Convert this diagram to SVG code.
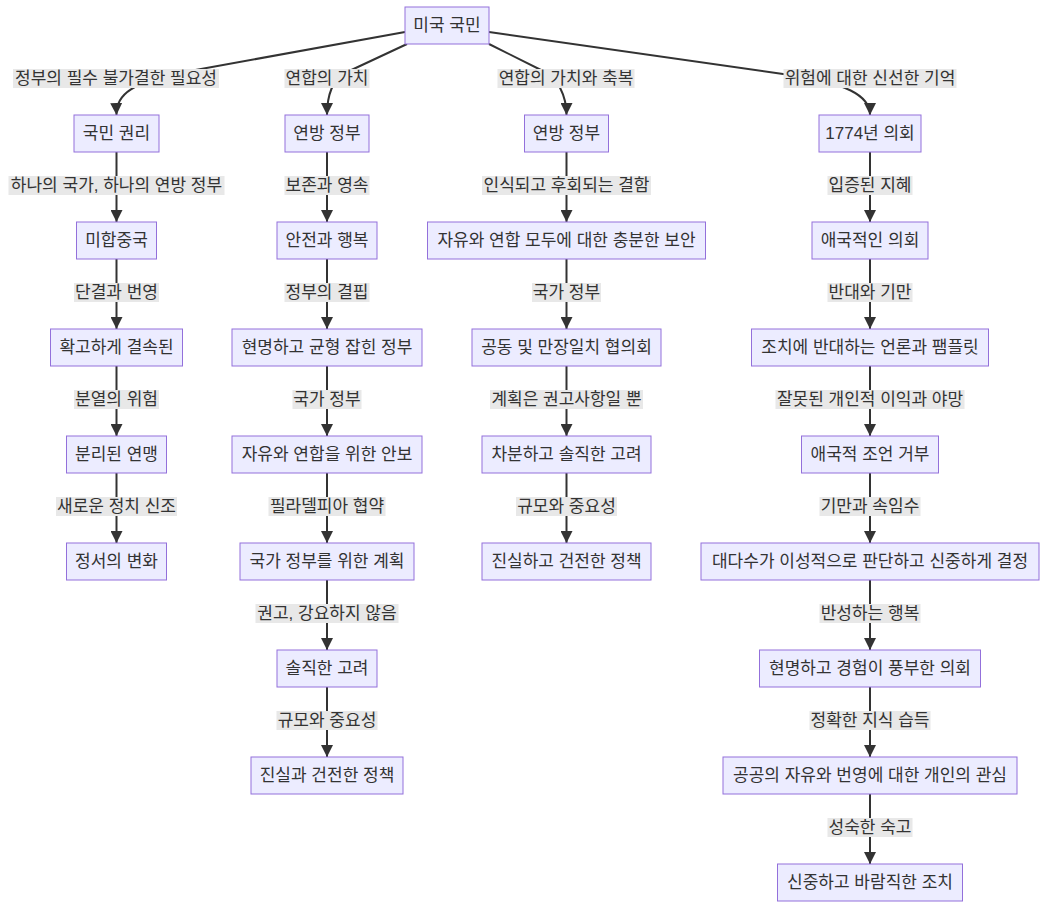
<svg xmlns="http://www.w3.org/2000/svg" width="1047" height="908" viewBox="0 0 1047 908">
<defs>
<marker id="arrow" viewBox="0 0 10 10" refX="10" refY="5" markerUnits="userSpaceOnUse" markerWidth="12" markerHeight="12" orient="auto">
<path d="M0,0 L10,5 L0,10 z" fill="#333"/>
</marker>
</defs>
<style>
.node rect{fill:#ECECFF;stroke:#9370DB;stroke-width:1}
text{font-family:"Liberation Sans","Noto Sans CJK KR",sans-serif;font-size:17px;fill:#333;text-anchor:middle;dominant-baseline:central}
.edge{stroke:#333;stroke-width:2;fill:none;marker-end:url(#arrow)}
.lbl rect{fill:#e8e8e8}
</style>
<rect width="1047" height="908" fill="#ffffff"/>
<g id="connectors">
<path class="edge" d="M405,32 L190,71 C130,82 116,95 116.5,115"/>
<path class="edge" d="M407,44 L345,73 C333,79 327,95 327,115"/>
<path class="edge" d="M489,44 L545,72 C557,78 566.5,95 566.5,115"/>
<path class="edge" d="M489,32 L790,75 C845,83 870,95 870,115"/>
<path class="edge" d="M116.5,152 V222"/>
<path class="edge" d="M116.5,259 V329"/>
<path class="edge" d="M116.5,366 V436"/>
<path class="edge" d="M116.5,473 V543"/>
<path class="edge" d="M327,152 V222"/>
<path class="edge" d="M327,259 V329"/>
<path class="edge" d="M327,366 V436"/>
<path class="edge" d="M327,473 V543"/>
<path class="edge" d="M327,580 V650"/>
<path class="edge" d="M327,687 V757"/>
<path class="edge" d="M566.5,152 V222"/>
<path class="edge" d="M566.5,259 V329"/>
<path class="edge" d="M566.5,366 V436"/>
<path class="edge" d="M566.5,473 V543"/>
<path class="edge" d="M870,152 V222"/>
<path class="edge" d="M870,259 V329"/>
<path class="edge" d="M870,366 V436"/>
<path class="edge" d="M870,473 V543"/>
<path class="edge" d="M870,580 V650"/>
<path class="edge" d="M870,687 V757"/>
<path class="edge" d="M870,794 V864"/>
</g>
<g id="edge-labels">
<g class="lbl"><rect x="13" y="69" width="206" height="19"/><text x="116" y="78.5">정부의 필수 불가결한 필요성</text></g>
<g class="lbl"><rect x="284.5" y="69" width="85" height="19"/><text x="327" y="78.5">연합의 가치</text></g>
<g class="lbl"><rect x="497.5" y="69" width="137" height="19"/><text x="566" y="78.5">연합의 가치와 축복</text></g>
<g class="lbl"><rect x="783.5" y="69" width="173" height="19"/><text x="870" y="78.5">위험에 대한 신선한 기억</text></g>

<g class="lbl"><rect x="8.5" y="176" width="216" height="19"/><text x="116.5" y="185.5">하나의 국가, 하나의 연방 정부</text></g>
<g class="lbl"><rect x="74" y="283" width="85" height="19"/><text x="116.5" y="292.5">단결과 번영</text></g>
<g class="lbl"><rect x="74" y="390" width="85" height="19"/><text x="116.5" y="399.5">분열의 위험</text></g>
<g class="lbl"><rect x="56" y="497" width="121" height="19"/><text x="116.5" y="506.5">새로운 정치 신조</text></g>

<g class="lbl"><rect x="284.5" y="176" width="85" height="19"/><text x="327" y="185.5">보존과 영속</text></g>
<g class="lbl"><rect x="284.5" y="283" width="85" height="19"/><text x="327" y="292.5">정부의 결핍</text></g>
<g class="lbl"><rect x="292.5" y="390" width="69" height="19"/><text x="327" y="399.5">국가 정부</text></g>
<g class="lbl"><rect x="268.5" y="497" width="117" height="19"/><text x="327" y="506.5">필라델피아 협약</text></g>
<g class="lbl"><rect x="255.5" y="604" width="143" height="19"/><text x="327" y="613.5">권고, 강요하지 않음</text></g>
<g class="lbl"><rect x="276.5" y="711" width="101" height="19"/><text x="327" y="720.5">규모와 중요성</text></g>

<g class="lbl"><rect x="482" y="176" width="169" height="19"/><text x="566.5" y="185.5">인식되고 후회되는 결함</text></g>
<g class="lbl"><rect x="532" y="283" width="69" height="19"/><text x="566.5" y="292.5">국가 정부</text></g>
<g class="lbl"><rect x="490" y="390" width="153" height="19"/><text x="566.5" y="399.5">계획은 권고사항일 뿐</text></g>
<g class="lbl"><rect x="516" y="497" width="101" height="19"/><text x="566.5" y="506.5">규모와 중요성</text></g>

<g class="lbl"><rect x="827.5" y="176" width="85" height="19"/><text x="870" y="185.5">입증된 지혜</text></g>
<g class="lbl"><rect x="827.5" y="283" width="85" height="19"/><text x="870" y="292.5">반대와 기만</text></g>
<g class="lbl"><rect x="775.5" y="390" width="189" height="19"/><text x="870" y="399.5">잘못된 개인적 이익과 야망</text></g>
<g class="lbl"><rect x="819.5" y="497" width="101" height="19"/><text x="870" y="506.5">기만과 속임수</text></g>
<g class="lbl"><rect x="819.5" y="604" width="101" height="19"/><text x="870" y="613.5">반성하는 행복</text></g>
<g class="lbl"><rect x="809.5" y="711" width="121" height="19"/><text x="870" y="720.5">정확한 지식 습득</text></g>
<g class="lbl"><rect x="827.5" y="818" width="85" height="19"/><text x="870" y="827.5">성숙한 숙고</text></g>
</g>

<g id="root" class="node"><rect x="405" y="7" width="84" height="37"/><text x="447" y="25.5">미국 국민</text></g>

<g id="A1" class="node"><rect x="74" y="115" width="85" height="37"/><text x="116.5" y="133.5">국민 권리</text></g>
<g id="A2" class="node"><rect x="76.5" y="222" width="80" height="37"/><text x="116.5" y="240.5">미합중국</text></g>
<g id="A3" class="node"><rect x="50.5" y="329" width="132" height="37"/><text x="116.5" y="347.5">확고하게 결속된</text></g>
<g id="A4" class="node"><rect x="66.5" y="436" width="100" height="37"/><text x="116.5" y="454.5">분리된 연맹</text></g>
<g id="A5" class="node"><rect x="66.5" y="543" width="100" height="37"/><text x="116.5" y="561.5">정서의 변화</text></g>

<g id="B1" class="node"><rect x="285" y="115" width="84" height="37"/><text x="327" y="133.5">연방 정부</text></g>
<g id="B2" class="node"><rect x="277" y="222" width="100" height="37"/><text x="327" y="240.5">안전과 행복</text></g>
<g id="B3" class="node"><rect x="232" y="329" width="190" height="37"/><text x="327" y="347.5">현명하고 균형 잡힌 정부</text></g>
<g id="B4" class="node"><rect x="232" y="436" width="190" height="37"/><text x="327" y="454.5">자유와 연합을 위한 안보</text></g>
<g id="B5" class="node"><rect x="240" y="543" width="174" height="37"/><text x="327" y="561.5">국가 정부를 위한 계획</text></g>
<g id="B6" class="node"><rect x="277" y="650" width="100" height="37"/><text x="327" y="668.5">솔직한 고려</text></g>
<g id="B7" class="node"><rect x="251" y="757" width="152" height="37"/><text x="327" y="775.5">진실과 건전한 정책</text></g>

<g id="C1" class="node"><rect x="524.5" y="115" width="84" height="37"/><text x="566.5" y="133.5">연방 정부</text></g>
<g id="C2" class="node"><rect x="427.5" y="222" width="278" height="37"/><text x="566.5" y="240.5">자유와 연합 모두에 대한 충분한 보안</text></g>
<g id="C3" class="node"><rect x="472" y="329" width="189" height="37"/><text x="566.5" y="347.5">공동 및 만장일치 협의회</text></g>
<g id="C4" class="node"><rect x="482" y="436" width="169" height="37"/><text x="566.5" y="454.5">차분하고 솔직한 고려</text></g>
<g id="C5" class="node"><rect x="482" y="543" width="169" height="37"/><text x="566.5" y="561.5">진실하고 건전한 정책</text></g>

<g id="D1" class="node"><rect x="819" y="115" width="102" height="37"/><text x="870" y="133.5">1774년 의회</text></g>
<g id="D2" class="node"><rect x="812" y="222" width="116" height="37"/><text x="870" y="240.5">애국적인 의회</text></g>
<g id="D3" class="node"><rect x="751.5" y="329" width="237" height="37"/><text x="870" y="347.5">조치에 반대하는 언론과 팸플릿</text></g>
<g id="D4" class="node"><rect x="801.5" y="436" width="137" height="37"/><text x="870" y="454.5">애국적 조언 거부</text></g>
<g id="D5" class="node"><rect x="701" y="543" width="338" height="37"/><text x="870" y="561.5">대다수가 이성적으로 판단하고 신중하게 결정</text></g>
<g id="D6" class="node"><rect x="759.5" y="650" width="221" height="37"/><text x="870" y="668.5">현명하고 경험이 풍부한 의회</text></g>
<g id="D7" class="node"><rect x="723" y="757" width="294" height="37"/><text x="870" y="775.5">공공의 자유와 번영에 대한 개인의 관심</text></g>
<g id="D8" class="node"><rect x="777.5" y="864" width="185" height="37"/><text x="870" y="882.5">신중하고 바람직한 조치</text></g>
</svg>
